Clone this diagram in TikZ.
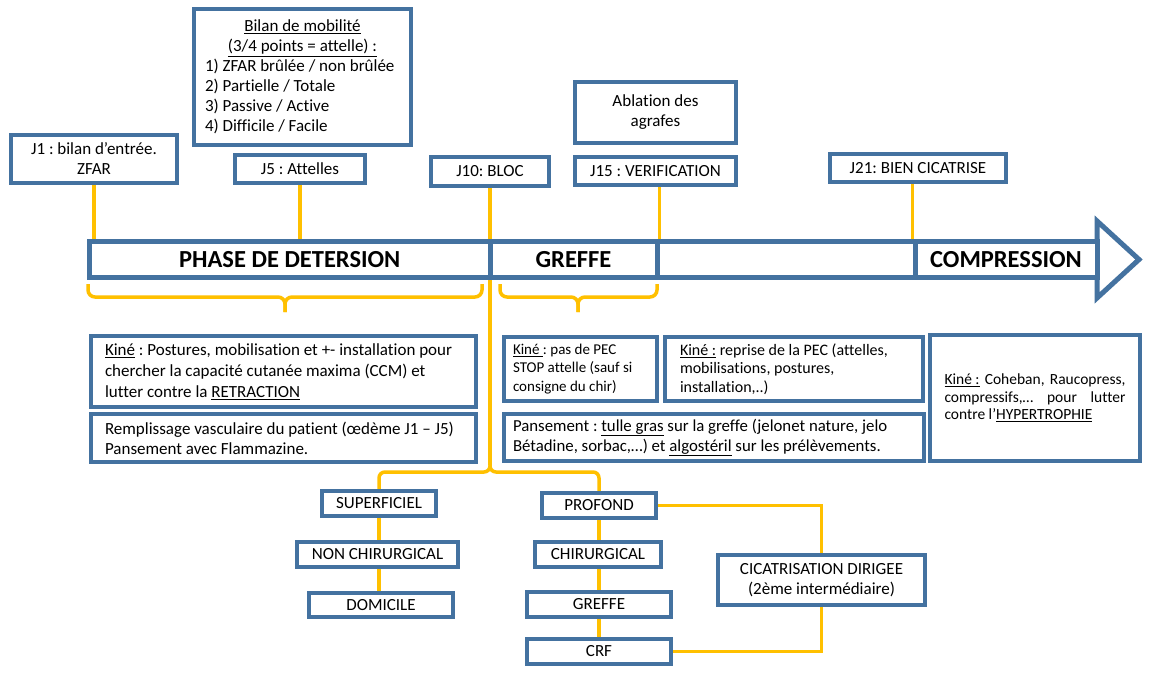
\documentclass[tikz,border=0pt]{standalone}
\usepackage{fontspec}
\setmainfont{Carlito}[Ligatures={TeX,NoCommon}]
\frenchspacing
\definecolor{bblue}{RGB}{68,114,160}
\definecolor{yl}{RGB}{255,192,0}
\newcommand{\fA}{\fontsize{17}{20}\selectfont\frenchspacing}
\newcommand{\fB}{\fontsize{15}{18.5}\selectfont\frenchspacing}
\newcommand{\fR}{\fontsize{16}{18.5}\selectfont\frenchspacing}
\newcommand{\fC}{\fontsize{15.5}{17.5}\selectfont\frenchspacing}
\newcommand{\fD}{\fontsize{24.5}{28}\selectfont\bfseries}
\newcommand{\fP}{\fontsize{16.8}{20}\selectfont\frenchspacing}
\pgfdeclarelayer{back}
\pgfdeclarelayer{bg}
\pgfsetlayers{back,bg,main}
\begin{document}
\begin{tikzpicture}[x=1pt,y=-1pt,
  bx/.style={draw=bblue, line width=4pt, fill=white, inner sep=0pt, align=center, font=\fA},
  lbx/.style={bx, align=flush left},
  seg/.style={draw=bblue, line width=5pt, fill=white, inner sep=0pt, minimum height=36pt, font=\fD},
  yline/.style={draw=yl, line width=3.5pt},
  ybrace/.style={draw=yl, line width=3.5pt, rounded corners=7pt},
  ]
\useasboundingbox (0,0) rectangle (1168,682);
\begin{pgfonlayer}{back}
\fill[white] (0,0) rectangle (1168,682);
\end{pgfonlayer}

% top boxes
\node[bx, minimum width=217pt, minimum height=136pt] (bil) at (302.5,77)
  {\underline{Bilan de mobilité}\\\underline{(3/4 points = attelle) :}\\
   \makebox[195pt][l]{1) ZFAR brûlée / non brûlée}\\
   \makebox[195pt][l]{2) Partielle / Totale}\\
   \makebox[195pt][l]{3) Passive / Active}\\
   \makebox[195pt][l]{4) Difficile / Facile}};
\node[bx, minimum width=166pt, minimum height=48pt] (j1) at (94,159) {J1 : bilan d’entrée.\\ZFAR};
\node[bx, minimum width=130pt, minimum height=28pt] (j5) at (300,169) {J5 : Attelles};
\node[bx, minimum width=118pt, minimum height=29pt] (j10) at (490,171.5) {J10: BLOC};
\node[bx, minimum width=161pt, minimum height=61pt] (abl) at (655.5,112.5) {Ablation des\\agrafes};
\node[bx, minimum width=161pt, minimum height=28pt] (j15) at (655.5,171) {J15 : VERIFICATION};
\node[bx, minimum width=176pt, minimum height=28pt] (j21) at (918,168) {J21: BIEN CICATRISE};

% arrow
\draw[draw=bblue, line width=5pt, fill=white, line join=miter] (1097,221) -- (1139,259.5) -- (1097,298) -- cycle;
\node[seg, minimum width=400.5pt] (phase) at (289.75,259.5) {PHASE DE DETERSION};
\node[seg, minimum width=167pt] (greffe) at (573.5,259.5) {GREFFE};
\node[seg, minimum width=258pt] (blank) at (786,259.5) {};
\node[seg, minimum width=182pt] (comp) at (1006,259.5) {COMPRESSION};

% braces
\draw[ybrace] (88,284) -- (88,297) -- (285,297) -- (285,312);
\draw[ybrace] (482,284) -- (482,297) -- (285,297) -- (285,312);
\draw[ybrace] (500,284) -- (500,297) -- (578,297) -- (578,312);
\draw[ybrace] (657,284) -- (657,297) -- (578,297) -- (578,312);

% middle boxes
\node[lbx, font=\fontsize{17}{21}\selectfont\frenchspacing, minimum width=385pt, minimum height=71pt, text width=357pt] (k1) at (283.5,371.5)
  {\underline{Kiné} : Postures, mobilisation et +- installation pour\\chercher la capacité cutanée maxima (CCM) et\\lutter contre la \underline{RETRACTION}};
\node[lbx, minimum width=385pt, minimum height=48pt, text width=357pt] (rem) at (283.5,438)
  {Remplissage vasculaire du patient (œdème J1 – J5)\\Pansement avec Flammazine.};
\node[lbx, font=\fB, minimum width=153pt, minimum height=64pt, text width=135pt] (pec) at (580.5,369)
  {\underline{Kiné }: pas de PEC\\STOP attelle (sauf si\\consigne du chir)};
\node[lbx, font=\fR, minimum width=258pt, minimum height=64pt, text width=228pt] (rep) at (794,369)
  {\underline{Kiné :} reprise de la PEC (attelles,\\mobilisations, postures,\\installation,..)};
\node[lbx, font=\fP, minimum width=420pt, minimum height=47pt, text width=402pt] (pan) at (714,437.5)
  {Pansement : \underline{tulle gras} sur la greffe (jelonet nature, jelo\\Bétadine, sorbac,…) et \underline{algostéril} sur les prélèvements.};
\node[bx, font=\fC, minimum width=210pt, minimum height=126pt, text width=181pt, align=justify] (coh) at (1035,398)
  {\underline{Kiné :} Coheban, Raucopress,\linebreak compressifs,… pour lutter\linebreak contre l’\underline{HYPERTROPHIE}};

% lower chain
\node[bx, minimum width=114pt, minimum height=25pt] (sup) at (379,503.5) {SUPERFICIEL};
\node[bx, minimum width=161pt, minimum height=25pt] (non) at (377.5,554.5) {NON CHIRURGICAL};
\node[bx, minimum width=144pt, minimum height=24pt] (dom) at (381,605) {DOMICILE};
\node[bx, minimum width=114pt, minimum height=25pt] (prof) at (599,505.5) {PROFOND};
\node[bx, minimum width=126pt, minimum height=25pt] (chir) at (598,554.5) {CHIRURGICAL};
\node[bx, minimum width=144pt, minimum height=25pt] (gref) at (599,604.5) {GREFFE};
\node[bx, minimum width=144pt, minimum height=25pt] (crf) at (599,651.5) {CRF};
\node[bx, minimum width=207pt, minimum height=50pt] (cic) at (821.5,580) {CICATRISATION DIRIGEE\\(2ème intermédiaire)};

\coordinate (jn) at (490,472);

\begin{pgfonlayer}{bg}
\draw[yline] (j1.south) -- (j1.south |- phase.north);
\draw[yline] (j5.south) -- (j5.south |- phase.north);
\draw[yline] (j10.south) -- (490,465);
\draw[yline] (j15.south -| greffe.east) -- (greffe.north east);
\draw[yline] (j21.south -| comp.west) -- (comp.north west);
\draw[yline, rounded corners=6pt] (sup.north) |- (jn) -- (490,464);
\draw[yline, rounded corners=6pt] (prof.north) |- (jn) -- (490,464);
\draw[yline] (sup.south) -- (sup.south |- non.north);
\draw[yline] (sup.south |- non.south) -- (sup.south |- dom.north);
\draw[yline] (prof.south) -- (prof.south |- chir.north);
\draw[yline] (prof.south |- chir.south) -- (prof.south |- gref.north);
\draw[yline] (gref.south) -- (crf.north);
\draw[yline] (prof.east) -| (cic.north);
\draw[yline] (cic.south) |- (crf.east);
\end{pgfonlayer}
\end{tikzpicture}
\end{document}
